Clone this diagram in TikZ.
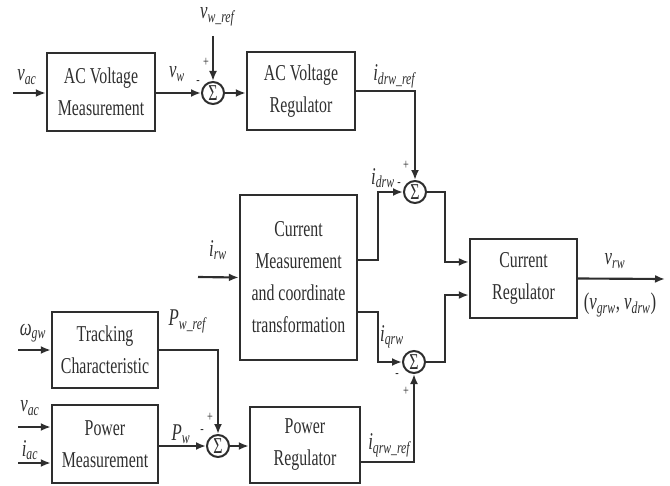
\documentclass[tikz,border=0pt]{standalone}
\usepackage{fontspec}
\setmainfont{Liberation Serif}[FakeStretch=0.7]
\usetikzlibrary{arrows.meta,calc}
\newcommand\lb[2]{\textit{#1}\textsubscript{\textit{#2}}}
\definecolor{ink}{gray}{0.18}
\tikzset{
  blk/.style={draw=ink,line width=1.8pt,minimum width=#1,inner sep=0pt,align=center,text=ink},
  sumc/.style={draw=ink,circle,line width=1.5pt,minimum size=16.5pt,inner sep=0pt,text=ink,font=\fontsize{17}{17}\selectfont},
  con/.style={draw=ink,line width=1.6pt},
  arr/.style={con,-{Latex[length=7.5pt,width=6pt]}},
  lab/.style={text=ink,inner sep=0pt,font=\fontsize{18}{20}\selectfont},
  sgn/.style={text=ink,inner sep=0pt,font=\fontsize{11}{11}\selectfont}
}
\begin{document}
\begin{tikzpicture}[x=0.75pt,y=-0.75pt,font=\fontsize{17}{24}\selectfont]
\useasboundingbox (0,0) rectangle (670,485);
% blocks
\node[blk=81pt,minimum height=58.5pt] (acvm) at (101,92) {AC Voltage\\Measurement};
\node[blk=81pt,minimum height=58.5pt] (acvr) at (301,91) {AC Voltage\\Regulator};
\node[blk=87.75pt,minimum height=123.75pt] (cmct) at (298.5,277.5) {Current\\Measurement\\and coordinate\\transformation};
\node[blk=80.25pt,minimum height=59.25pt] (curreg) at (523.5,278.5) {Current\\Regulator};
\node[blk=79.5pt,minimum height=57pt] (track) at (105,350) {Tracking\\Characteristic};
\node[blk=79.5pt,minimum height=58.5pt] (powm) at (105,444) {Power\\Measurement};
\node[blk=82.5pt,minimum height=57pt] (powreg) at (305,445) {Power\\Regulator};
% summing junctions
\node[sumc] (s1) at (213,93) {Σ};
\node[sumc] (s2) at (415,192) {Σ};
\node[sumc] (s3) at (414,362) {Σ};
\node[sumc] (s4) at (218,446) {Σ};
% free ends
\coordinate (inac) at (13,93);
\coordinate (inref) at (213,36);
\coordinate (inirw) at (198,277);
\coordinate (inom) at (18,350);
\coordinate (invdc) at (18,427);
\coordinate (inidc) at (18,463);
\coordinate (out) at (665,279);
% connectors
\draw[arr] (inac) -- (inac -| acvm.west);
\draw[arr] (acvm.east |- s1.west) -- (s1.west);
\draw[arr] (inref) -- (s1.north);
\draw[arr] (s1.east) -- (s1.east -| acvr.west);
\draw[arr] (acvr.east) -| (s2.north);
\draw[arr] ([yshift=13.1pt]cmct.east) -- ++(20,0) |- (s2.west);
\draw[arr] ([yshift=-25.9pt]cmct.east) -- ++(20,0) |- (s3.west);
\draw[arr] (s2.east) -- ++(18,0) |- ([yshift=12.4pt]curreg.west);
\draw[arr] (s3.east) -- ++(19,0) |- ([yshift=-12.4pt]curreg.west);
\draw[arr] (curreg.east) -- (out);
\draw[arr] (inirw) -- (cmct.west);
\draw[arr] (inom) -- (track.west);
\draw[arr] (invdc) -- (invdc -| powm.west);
\draw[arr] (inidc) -- (inidc -| powm.west);
\draw[arr] (track.east) -| (s4.north);
\draw[arr] (powm.east |- s4.west) -- (s4.west);
\draw[arr] (s4.east) -- (s4.east -| powreg.west);
\draw[arr] ([yshift=-12.75pt]powreg.east) -| (s3.south);
% labels
\node[lab] (lvac) at (27,77) {\lb{v}{ac}};
\node[lab] (lvw) at (177,74) {\lb{v}{w}};
\node[lab] (lvwref) at (218,17) {\lb{v}{w\_ref}};
\node[lab] (lidref) at (395,76) {\lb{i}{drw\_ref}};
\node[lab] (lid) at (383,178) {\lb{i}{drw}};
\node[lab] (liq) at (392,337) {\lb{i}{qrw}};
\node[lab] (lirw) at (218,250) {\lb{i}{rw}};
\node[lab] (lvrw) at (615,261) {\lb{v}{rw}};
\node[lab] (lvgd) at (620,305) {(\lb{v}{grw}, \lb{v}{drw})};
\node[lab] (lom) at (33,333) {\lb{ω}{gw}};
\node[lab] (lpref) at (188,321) {\lb{P}{w\_ref}};
\node[lab] (lvdc) at (30,408) {\lb{v}{ac}};
\node[lab] (lidc) at (30,450) {\lb{i}{ac}};
\node[lab] (lpw) at (181,434) {\lb{P}{w}};
\node[lab] (liqref) at (390,445) {\lb{i}{qrw\_ref}};
% signs
\node[sgn] at (206,62) {+};
\node[sgn] at (198,82) {-};
\node[sgn] at (406,165) {+};
\node[sgn] at (399,184) {-};
\node[sgn] at (397,375) {-};
\node[sgn] at (406,391) {+};
\node[sgn] at (210,417) {+};
\node[sgn] at (202,431) {-};
\end{tikzpicture}
\end{document}
